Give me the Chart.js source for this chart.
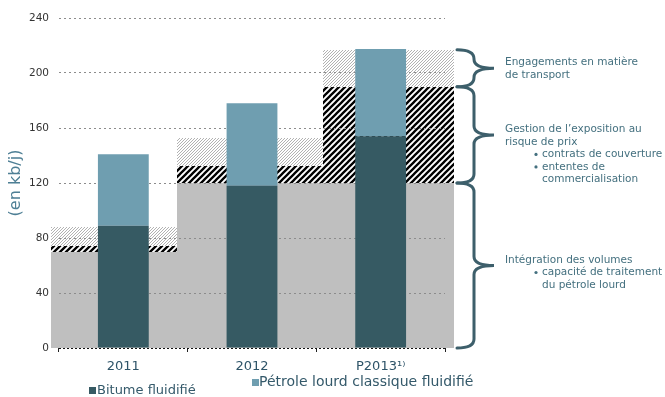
<!DOCTYPE html>
<html lang="fr">
<head>
<meta charset="utf-8">
<title>Capacité de traitement du pétrole lourd</title>
<script src="https://cdn.jsdelivr.net/npm/chart.js@4/dist/chart.umd.min.js"></script>
<style>
  html, body { margin: 0; padding: 0; background: #fff; }
  #wrap { position: relative; width: 665px; height: 397px; overflow: hidden; font-family: "DejaVu Sans", Verdana, sans-serif; }
  #chart { position: absolute; left: 0; top: 0; }
  .lg { position: absolute; white-space: nowrap; color: #34596a; line-height: 1em; }
  .lg i { position: absolute; width: 7px; height: 7px; }
</style>
</head>
<body>
<div id="wrap">
  <canvas id="chart" width="665" height="397"></canvas>
  <div class="lg" style="left:97px; top:383px; font-size:13px;"><i style="left:-8px; top:4px; background:#365a63;"></i>Bitume fluidifié</div>
  <div class="lg" style="left:259px; top:374px; font-size:14px;"><i style="left:-7px; top:5px; background:#6f9eb0;"></i>Pétrole lourd classique fluidifié</div>
</div>
<script>
// Catégories (années) et volumes en kb/j
const categories = ['2011', '2012', 'P2013\u00B9\u207E'];
const bitumeFluidifie = [89, 118, 154];
const petroleLourdClassique = [52, 60, 63.5];

// Capacité couverte par couche (empilée, en kb/j)
const integrationVolumes = [70, 120, 120];
const gestionRisquePrix = [4, 12, 70];
const engagementsTransport = [14, 21, 27];

const yTicks = [0, 40, 80, 120, 160, 200, 240];

// Textes des accolades à droite
const annotations = [
  [{ t: 'Engagements en matière' }, { t: 'de transport' }],
  [{ t: 'Gestion de l\u2019exposition au' }, { t: 'risque de prix' },
   { t: 'contrats de couverture', bullet: true }, { t: 'ententes de', bullet: true },
   { t: 'commercialisation', indent: true }],
  [{ t: 'Intégration des volumes' }, { t: 'capacité de traitement', bullet: true },
   { t: 'du pétrole lourd', indent: true }]
];

function makePattern(size, draw) {
  const c = document.createElement('canvas');
  c.width = size; c.height = size;
  const g = c.getContext('2d');
  g.fillStyle = '#ffffff';
  g.fillRect(0, 0, size, size);
  draw(g, size);
  return g.createPattern(c, 'repeat');
}
function diagonal(color, width) {
  return (g, s) => {
    g.strokeStyle = color;
    g.lineWidth = width;
    g.beginPath();
    g.moveTo(-1, s + 1); g.lineTo(s + 1, -1);
    g.moveTo(-s / 2 - 1, s / 2 + 1); g.lineTo(s / 2 + 1, -s / 2 - 1);
    g.moveTo(s / 2 - 1, s * 1.5 + 1); g.lineTo(s * 1.5 + 1, s / 2 - 1);
    g.stroke();
  };
}

const ctx0 = document.getElementById('chart').getContext('2d');
const bandLayers = [
  { values: integrationVolumes, fill: '#bfbfbf' },
  { values: gestionRisquePrix, fill: makePattern(6, diagonal('#000000', 2.3)) },
  { values: engagementsTransport, fill: makePattern(3, diagonal('#a9a9a9', 0.9)) }
];

// Zones de capacité derrière les barres, en unités de catégorie
const bandPlugin = {
  id: 'bands',
  beforeDraw(chart, args, opts) {
    const { ctx, scales: { x, y } } = chart;
    const edges = opts.edges;
    ctx.save();
    for (let i = 0; i < categories.length; i++) {
      const xl = Math.round(x.getPixelForValue(edges[i]));
      const xr = Math.round(x.getPixelForValue(edges[i + 1]));
      let base = 0;
      bandLayers.forEach(layer => {
        const top = base + layer.values[i];
        const yb = Math.round(y.getPixelForValue(base));
        const yt = Math.round(y.getPixelForValue(top));
        ctx.fillStyle = layer.fill;
        ctx.fillRect(xl, yt, xr - xl, yb - yt);
        base = top;
      });
    }
    ctx.restore();
  },
  afterDatasetsDraw(chart) {
    const { ctx, chartArea, scales: { y } } = chart;
    const y0 = Math.round(y.getPixelForValue(0)) + 0.5;
    ctx.save();
    ctx.strokeStyle = '#111';
    ctx.lineWidth = 1;
    ctx.setLineDash([2, 2]);
    ctx.beginPath();
    ctx.moveTo(chartArea.left, y0);
    ctx.lineTo(chartArea.right, y0);
    ctx.stroke();
    ctx.restore();
  }
};

// Accolades et textes explicatifs pour chaque couche de P2013
const bracePlugin = {
  id: 'braces',
  afterDraw(chart) {
    const { ctx, chartArea, scales: { y } } = chart;
    const last = categories.length - 1;
    const x0 = chartArea.right + 12, x1 = chartArea.right + 29, x2 = chartArea.right + 49;
    const r = 9;
    let base = 0;
    const spans = bandLayers.map(layer => {
      const s = [base, base + layer.values[last]];
      base = s[1];
      return s;
    });
    ctx.save();
    ctx.strokeStyle = '#3d5f6b';
    ctx.lineWidth = 3;
    ctx.lineCap = 'round';
    spans.forEach((s, k) => {
      const yb = y.getPixelForValue(s[0]);
      const yt = y.getPixelForValue(s[1]);
      const ym = (yb + yt) / 2;
      ctx.beginPath();
      ctx.moveTo(x0, yt);
      ctx.quadraticCurveTo(x1, yt, x1, yt + r);
      ctx.lineTo(x1, ym - r);
      ctx.quadraticCurveTo(x1, ym, x2, ym);
      ctx.quadraticCurveTo(x1, ym, x1, ym + r);
      ctx.lineTo(x1, yb - r);
      ctx.quadraticCurveTo(x1, yb, x0, yb);
      ctx.stroke();

      const lines = annotations[2 - k];
      ctx.fillStyle = '#44707f';
      ctx.font = '10.5px "DejaVu Sans", Verdana, sans-serif';
      ctx.textBaseline = 'middle';
      ctx.textAlign = 'left';
      const tx = chartArea.right + 60;
      lines.forEach((ln, j) => {
        const ly = ym - 5.5 + j * 12.5;
        if (ln.bullet) {
          ctx.beginPath();
          ctx.arc(tx + 31, ly, 1.6, 0, Math.PI * 2);
          ctx.fill();
        }
        ctx.fillText(ln.t, (ln.bullet || ln.indent) ? tx + 37 : tx, ly);
      });
    });
    ctx.restore();
  }
};

new Chart(ctx0, {
  type: 'bar',
  data: {
    labels: categories,
    datasets: [
      { label: 'Bitume fluidifié', data: bitumeFluidifie, backgroundColor: '#365a63', borderWidth: 0 },
      { label: 'Pétrole lourd classique fluidifié', data: petroleLourdClassique, backgroundColor: '#6f9eb0', borderWidth: 0 }
    ]
  },
  options: {
    responsive: false,
    animation: false,
    devicePixelRatio: 1,
    layout: { padding: { top: 18, right: 220, left: 0, bottom: 0 } },
    datasets: { bar: { categoryPercentage: 1, barPercentage: 0.395 } },
    scales: {
      x: {
        stacked: true,
        offset: true,
        border: { display: false },
        grid: { offset: true, drawOnChartArea: false, drawTicks: true, tickLength: 4, color: '#222', lineWidth: 1 },
        ticks: { color: '#2e5468', font: { family: '"DejaVu Sans", Verdana, sans-serif', size: 13 }, padding: 7 },
        afterFit(scale) { scale.height = 49; }
      },
      y: {
        stacked: true,
        min: 0,
        max: 240,
        border: { display: false, dash: [2, 3] },
        afterBuildTicks(scale) { scale.ticks = yTicks.map(v => ({ value: v })); },
        grid: {
          drawTicks: false,
          color: ctx => ctx.tick && ctx.tick.value === 0 ? 'rgba(0,0,0,0)' : '#8c8c8c',
          lineWidth: 1
        },
        ticks: { color: '#333', font: { family: '"DejaVu Sans", Verdana, sans-serif', size: 10.5 }, padding: 10 },
        title: {
          display: true,
          text: '(en kb/j)',
          color: '#4e7f95',
          font: { family: '"DejaVu Sans", Verdana, sans-serif', size: 16 },
          padding: { top: 6, bottom: 0 }
        },
        afterFit(scale) { scale.width = 59; }
      }
    },
    plugins: {
      legend: { display: false },
      tooltip: { enabled: false },
      bands: { edges: [-0.56, 0.415, 1.55, 2.57] }
    }
  },
  plugins: [bandPlugin, bracePlugin]
});
</script>
</body>
</html>
